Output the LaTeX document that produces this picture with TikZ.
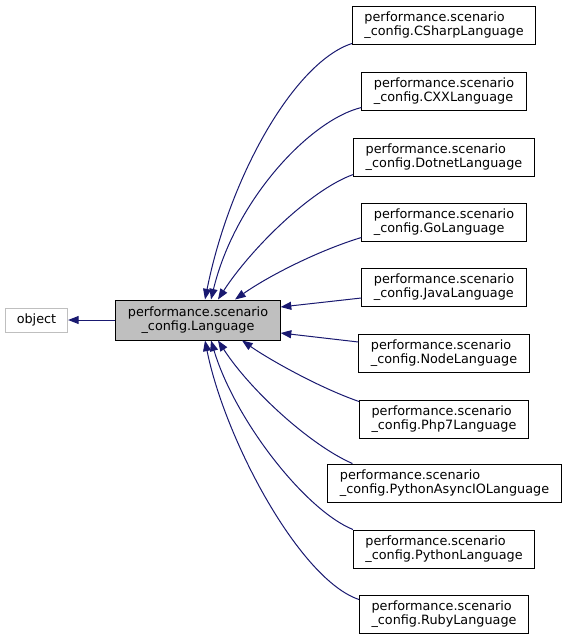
\documentclass[tikz,border=0pt]{standalone}
\usepackage{fontspec}
\setmainfont{DejaVu Sans}
\usetikzlibrary{arrows.meta}
\definecolor{edgeblue}{RGB}{25,25,112}
\definecolor{boxgray}{RGB}{191,191,191}
\begin{document}
\begin{tikzpicture}[x=0.75pt,y=-0.75pt,line width=0.75pt,
    every node/.style={font=\fontsize{9.6}{10.5}\selectfont,inner xsep=9pt,inner ysep=0pt},
    cls/.style={draw=black,align=left,minimum height=28.5pt},
    edge/.style={draw=edgeblue,-{Triangle[length=8pt,width=6pt]}}]
        \useasboundingbox (0,0) rectangle (567,640);
        \node[draw=boxgray,minimum height=18pt,inner xsep=8.5pt] (obj) at (36.5,320) {object};
        \node[draw=black,fill=boxgray,align=center,minimum height=30pt] (lang) at (198,320) {performance.scenario\\\_config.Language};
        \node[cls] (cs) at (444,25) {performance.scenario\\\_config.CSharpLanguage};
        \node[cls] (cxx) at (444,91) {performance.scenario\\\_config.CXXLanguage};
        \node[cls] (dotnet) at (444,157) {performance.scenario\\\_config.DotnetLanguage};
        \node[cls] (go) at (444,222) {performance.scenario\\\_config.GoLanguage};
        \node[cls] (java) at (444,287) {performance.scenario\\\_config.JavaLanguage};
        \node[cls] (nodejs) at (444,353) {performance.scenario\\\_config.NodeLanguage};
        \node[cls] (php) at (444,419) {performance.scenario\\\_config.Php7Language};
        \node[cls] (async) at (444.5,483) {performance.scenario\\\_config.PythonAsyncIOLanguage};
        \node[cls] (py) at (444,549) {performance.scenario\\\_config.PythonLanguage};
        \node[cls] (ruby) at (444,614) {performance.scenario\\\_config.RubyLanguage};
        \draw[edge] (lang) -- (obj);
        \draw[edge] ([yshift=0.75pt]cs.south west) .. controls (295,62) and (230,175) .. ([xshift=5.25pt]lang.north);
        \draw[edge] ([yshift=2.25pt]cxx.south west) .. controls (310,120) and (235,200) .. ([xshift=9.75pt]lang.north);
        \draw[edge] ([yshift=1.5pt]dotnet.south west) .. controls (310,190) and (250,250) .. ([xshift=15pt]lang.north);
        \draw[edge] ([yshift=3pt]go.south west) .. controls (320,250) and (270,275) .. ([xshift=27.75pt]lang.north);
        \draw[edge] ([yshift=-8.25pt]java.west) -- ([yshift=9.75pt]lang.east);
        \draw[edge] ([yshift=8.25pt]nodejs.west) -- ([yshift=-9.75pt]lang.east);
        \draw[edge] ([yshift=-1.5pt]php.north west) .. controls (320,388) and (270,360) .. ([xshift=33pt]lang.south);
        \draw[edge] ([xshift=18.75pt]async.north west) .. controls (310,445) and (250,390) .. ([xshift=15pt]lang.south);
        \draw[edge] (py.north west) .. controls (305,510) and (235,420) .. ([xshift=9.75pt]lang.south);
        \draw[edge] ([yshift=-3.75pt]ruby.north west) .. controls (300,580) and (225,440) .. ([xshift=5.25pt]lang.south);
\end{tikzpicture}
\end{document}
